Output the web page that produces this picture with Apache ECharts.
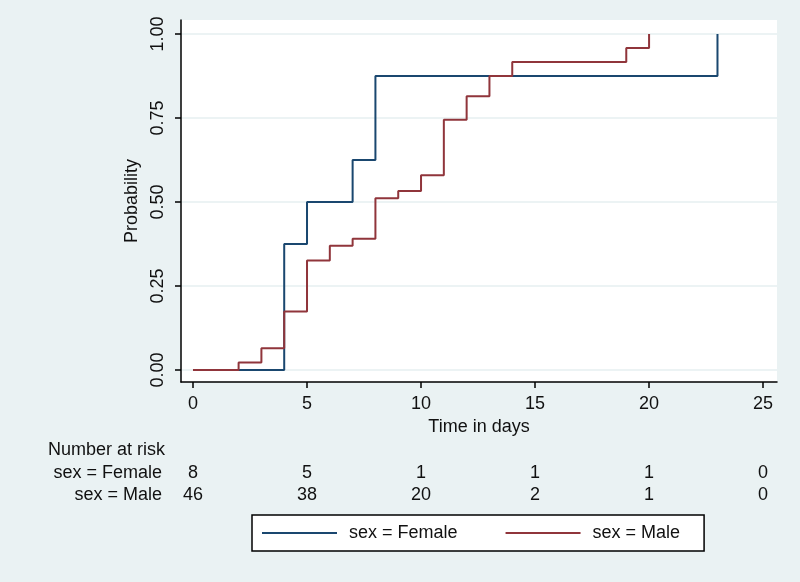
<!DOCTYPE html>
<html>
<head>
<meta charset="utf-8">
<script src="https://cdn.jsdelivr.net/npm/echarts@6/dist/echarts.min.js"></script>
<style>
  html, body { margin: 0; padding: 0; background: #eaf2f3; }
  #chart { width: 800px; height: 582px; }
</style>
</head>
<body>
<div id="chart"></div>
<script>
  // Kaplan-Meier failure curves, [time, probability]
  var femaleSteps = [[0, 0], [4, 0.375], [5, 0.5], [7, 0.625], [8, 0.875], [23, 1]];
  var maleSteps = [[0, 0], [2, 0.022], [3, 0.065], [4, 0.174], [5, 0.326], [6, 0.37],
    [7, 0.391], [8, 0.511], [9, 0.533], [10, 0.58], [11, 0.745], [12, 0.815],
    [13, 0.875], [14, 0.917], [19, 0.958], [20, 1]];

  // number at risk table
  var riskTimes = [0, 5, 10, 15, 20, 25];
  var femaleRisk = [8, 5, 1, 1, 1, 0];
  var maleRisk = [46, 38, 20, 2, 1, 0];

  var xTicks = [0, 5, 10, 15, 20, 25];
  var yTicks = [0, 0.25, 0.5, 0.75, 1];

  var font = 'Liberation Sans, Arial, Helvetica, sans-serif';
  var navy = '#1a476f';
  var maroon = '#90353b';

  var chart = echarts.init(document.getElementById('chart'));

  var riskData = [];
  riskTimes.forEach(function (t, i) {
    riskData.push([t, 'sex = Female', femaleRisk[i]]);
    riskData.push([t, 'sex = Male', maleRisk[i]]);
  });

  chart.setOption({
    backgroundColor: '#eaf2f3',
    animation: false,
    textStyle: { fontFamily: font },
    grid: [
      {
        left: 181, right: 23, top: 20, bottom: 200,
        show: true, backgroundColor: '#ffffff', borderWidth: 0
      },
      {
        left: 181, right: 23, top: 462, height: 44
      }
    ],
    legend: {
      left: 252, top: 515,
      padding: [9, 24, 9, 10],
      icon: 'rect',
      itemWidth: 75, itemHeight: 2, itemGap: 48,
      backgroundColor: '#ffffff',
      borderColor: '#000000', borderWidth: 1.5, borderRadius: 0,
      textStyle: { fontSize: 18, color: '#111', fontFamily: font, padding: [0, 0, 0, 7] },
      data: ['sex = Female', 'sex = Male']
    },
    xAxis: [
      {
        type: 'value', gridIndex: 0,
        min: -0.526, max: 25.61,
        name: 'Time in days', nameLocation: 'middle', nameGap: 34,
        nameTextStyle: { fontSize: 18, color: '#111' },
        axisLine: { onZero: false, lineStyle: { color: '#000', width: 1.5 } },
        axisTick: { length: 6, lineStyle: { color: '#000', width: 1.5 }, customValues: xTicks },
        axisLabel: { fontSize: 18, color: '#111', margin: 13, customValues: xTicks },
        splitLine: { show: false }
      },
      {
        type: 'value', gridIndex: 1,
        min: -0.526, max: 25.61,
        show: false
      }
    ],
    yAxis: [
      {
        type: 'value', gridIndex: 0,
        min: -0.0357, max: 1.0417,
        name: 'Probability', nameLocation: 'middle', nameGap: 36, nameRotate: 90,
        nameTextStyle: { fontSize: 18, color: '#111' },
        axisLine: { show: true, onZero: false, lineStyle: { color: '#000', width: 1.5 } },
        axisTick: { show: true, length: 6, lineStyle: { color: '#000', width: 1.5 }, customValues: yTicks },
        axisLabel: {
          fontSize: 18, color: '#111', margin: 14, rotate: 90,
          customValues: yTicks,
          formatter: function (v) { return v.toFixed(2); }
        },
        splitLine: { show: true, lineStyle: { color: '#e6eff1', width: 1.5 } }
      },
      {
        type: 'category', gridIndex: 1,
        data: ['sex = Male', 'sex = Female'],
        name: 'Number at risk', nameLocation: 'end', nameGap: 3,
        nameTextStyle: { fontSize: 18, color: '#111', align: 'right', padding: [0, 28, 0, 0] },
        axisLine: { show: false },
        axisTick: { show: false },
        axisLabel: { fontSize: 18, color: '#111', margin: 19, interval: 0 },
        splitLine: { show: false }
      }
    ],
    series: [
      {
        name: 'sex = Female', type: 'line', step: 'end',
        xAxisIndex: 0, yAxisIndex: 0,
        data: femaleSteps, symbol: 'none',
        lineStyle: { color: navy, width: 2 },
        itemStyle: { color: navy }
      },
      {
        name: 'sex = Male', type: 'line', step: 'end',
        xAxisIndex: 0, yAxisIndex: 0,
        data: maleSteps, symbol: 'none',
        lineStyle: { color: maroon, width: 2 },
        itemStyle: { color: maroon }
      },
      {
        name: 'risk', type: 'scatter',
        xAxisIndex: 1, yAxisIndex: 1,
        data: riskData, symbolSize: 1,
        itemStyle: { color: 'rgba(0,0,0,0)' },
        label: {
          show: true, position: 'inside', fontSize: 18, color: '#111',
          textBorderWidth: 0, opacity: 1,
          formatter: function (p) { return p.value[2]; }
        },
        silent: true
      }
    ]
  });
</script>
</body>
</html>
